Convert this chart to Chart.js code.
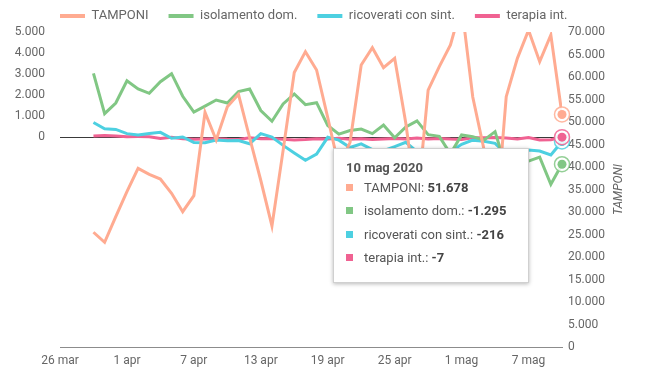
<!DOCTYPE html>
<html><head><meta charset="utf-8">
<script src="https://cdn.jsdelivr.net/npm/chart.js@4/dist/chart.umd.min.js"></script>
<style>
html,body{margin:0;padding:0;background:#fff;}
#wrap{position:relative;width:646px;height:380px;}
#tt{position:absolute;box-sizing:border-box;width:196px;height:135px;background:#fff;border:1px solid #d0d0d0;box-shadow:0 1px 4px rgba(0,0,0,0.28);font-family:Roboto,sans-serif;padding:12px 12px 0 12px;display:none;}
#tt .t{font-weight:bold;font-size:13px;color:#555;line-height:14px;height:14px;margin-bottom:1px;}
#tt .r{height:23.3px;line-height:23.3px;font-size:13px;color:#555;white-space:nowrap;}
#tt .s{display:inline-block;width:7px;height:7px;margin-right:11px;vertical-align:middle;position:relative;top:-1px;}
#tt b{color:#444;}
</style></head><body>
<div id="wrap"><canvas id="c" width="646" height="380"></canvas><div id="tt"></div></div>
<script>
const dates = ['2020-03-29','2020-03-30','2020-03-31','2020-04-01','2020-04-02','2020-04-03','2020-04-04','2020-04-05','2020-04-06','2020-04-07','2020-04-08','2020-04-09','2020-04-10','2020-04-11','2020-04-12','2020-04-13','2020-04-14','2020-04-15','2020-04-16','2020-04-17','2020-04-18','2020-04-19','2020-04-20','2020-04-21','2020-04-22','2020-04-23','2020-04-24','2020-04-25','2020-04-26','2020-04-27','2020-04-28','2020-04-29','2020-04-30','2020-05-01','2020-05-02','2020-05-03','2020-05-04','2020-05-05','2020-05-06','2020-05-07','2020-05-08','2020-05-09','2020-05-10'];
const tamponi = [25500,23260,28960,34520,39700,38370,37330,34150,30070,33630,52150,46000,53410,56150,46500,37000,26900,43700,61000,65630,61560,51000,40000,45500,62670,66520,62070,64150,49700,31000,57100,62300,67110,76000,55560,44000,25000,55630,64150,70400,63410,69330,51678];
const isolamentoDom = [3032,1110,1620,2675,2290,2079,2635,3015,1940,1190,1470,1762,1620,2159,2286,1260,750,1571,2050,1540,1635,550,135,310,380,160,571,-40,475,770,110,30,-800,95,16,-150,254,-1500,-700,-1150,-960,-2250,-1295];
const ricoveratiSint = [690,390,360,160,95,165,222,-63,0,-260,-270,-143,-180,-170,-320,160,0,-400,-760,-1110,-815,-16,-150,-500,-330,-600,-650,-460,-254,-700,-800,-600,-700,-350,-150,-200,-300,-800,-700,-620,-667,-857,-216];
const terapiaInt = [50,75,42,12,18,15,-74,-17,-79,-106,-99,-88,-108,-116,-38,-83,-74,-107,-143,-124,-79,-98,-62,-102,-87,-117,-94,-71,-93,-53,-93,-68,-101,-116,-39,-38,-22,-52,-94,-22,-143,-134,-7];
const seriesNames = ['TAMPONI','isolamento dom.','ricoverati con sint.','terapia int.'];
const xTickDates = ['2020-03-26','2020-04-01','2020-04-07','2020-04-13','2020-04-19','2020-04-25','2020-05-01','2020-05-07'];
const xRange = ['2020-03-26','2020-05-10'];
const leftTickValues = [0,1000,2000,3000,4000,5000];
const leftRange = [-10000,5000];
const rightRange = [0,70000];
const rightTickStep = 5000;
const rightAxisTitle = 'TAMPONI';
const mesi = ['gen','feb','mar','apr','mag','giu','lug','ago','set','ott','nov','dic'];
const colors = ['#FFAB91','#81C784','#4DD0E1','#F06292'];

const toUTC = d => { const [y,m,dd] = d.split('-').map(Number); return Date.UTC(y,m-1,dd); };
const origin = toUTC(xRange[0]);
const toDay = d => (toUTC(d) - origin) / 864e5;
const days = dates.map(toDay);
const dayLabel = v => { const d = new Date(origin + v * 864e5); return d.getUTCDate() + ' ' + mesi[d.getUTCMonth()]; };
const fmt = v => { const s = Math.abs(Math.round(v)).toString().replace(/\B(?=(\d{3})+(?!\d))/g, '.'); return (v < 0 ? '-' : '') + s; };

const series = [tamponi, isolamentoDom, ricoveratiSint, terapiaInt];
const datasets = series.map((vals, i) => ({
  label: seriesNames[i],
  data: vals.map((v, j) => ({x: days[j], y: v})),
  yAxisID: i === 0 ? 'y1' : 'y',
  borderColor: colors[i], backgroundColor: colors[i],
  borderWidth: 3, pointRadius: 0, pointHoverRadius: 0, pointHitRadius: 4, tension: 0
}));

function externalTooltip(context) {
  const {chart, tooltip} = context;
  const el = document.getElementById('tt');
  if (tooltip.opacity === 0 || !tooltip.dataPoints || !tooltip.dataPoints.length) { el.style.display = 'none'; return; }
  const pts = tooltip.dataPoints;
  const d = new Date(origin + pts[0].parsed.x * 864e5);
  let html = '<div class="t">' + d.getUTCDate() + ' ' + mesi[d.getUTCMonth()] + ' ' + d.getUTCFullYear() + '</div>';
  pts.forEach(p => {
    html += '<div class="r"><span class="s" style="background:' + colors[p.datasetIndex] + '"></span>' + p.dataset.label + ': <b>' + fmt(p.parsed.y) + '</b></div>';
  });
  el.innerHTML = html;
  el.style.display = 'block';
  el.style.left = (tooltip.caretX - 229) + 'px';
  el.style.top = (chart.chartArea.top + 116) + 'px';
}

const layoutTweak = {
  id: 'layoutTweak',
  afterLayout(chart) { const l = chart.legend; l.top -= 10.5; l.bottom -= 10.5; l.left += 40; l.right += 40; }
};
const rings = {
  id: 'rings',
  afterDatasetsDraw(chart) {
    const ctx = chart.ctx;
    const act = chart.getActiveElements().slice().sort((a, b) => a.datasetIndex - b.datasetIndex);
    act.forEach(a => {
      const el = chart.getDatasetMeta(a.datasetIndex).data[a.index];
      const c = colors[a.datasetIndex];
      ctx.save();
      ctx.beginPath(); ctx.arc(el.x, el.y, 7.5, 0, Math.PI * 2);
      ctx.fillStyle = 'rgba(255,255,255,0.85)'; ctx.fill();
      ctx.lineWidth = 1.5; ctx.strokeStyle = c; ctx.globalAlpha = 0.85; ctx.stroke();
      ctx.globalAlpha = 1;
      ctx.beginPath(); ctx.arc(el.x, el.y, 4.5, 0, Math.PI * 2);
      ctx.fillStyle = c; ctx.fill();
      ctx.restore();
    });
  }
};
const rightTitle = {
  id: 'rightTitle',
  afterDraw(chart) {
    const s = chart.scales.y1, ctx = chart.ctx;
    ctx.save();
    ctx.translate(s.right - 27, (s.top + s.bottom) / 2);
    ctx.rotate(-Math.PI / 2);
    ctx.font = 'italic 12px Roboto';
    ctx.fillStyle = '#666'; ctx.textAlign = 'center'; ctx.textBaseline = 'middle';
    ctx.fillText(rightAxisTitle, 0, 0);
    ctx.restore();
  }
};

Chart.defaults.font.family = 'Roboto';
Chart.defaults.font.size = 12;
Chart.defaults.color = '#666';

const chart = new Chart(document.getElementById('c'), {
  type: 'line',
  data: {datasets},
  options: {
    responsive: false, animation: false, devicePixelRatio: 1,
    layout: {padding: 0},
    interaction: {mode: 'index', intersect: false},
    plugins: {
      legend: {
        position: 'top', align: 'start', maxHeight: 32,
        labels: {
          boxWidth: 25, boxHeight: 4, padding: 20, color: '#666', font: {size: 13},
          generateLabels: ch => Chart.defaults.plugins.legend.labels.generateLabels(ch).map(l => Object.assign(l, {lineWidth: 0, fillStyle: colors[l.datasetIndex]}))
        }
      },
      tooltip: {enabled: false, mode: 'index', intersect: false, position: 'average', external: externalTooltip}
    },
    scales: {
      x: {
        type: 'linear', min: toDay(xRange[0]), max: toDay(xRange[1]),
        grid: {display: false, drawTicks: false}, border: {display: true, color: '#8c8c8c'},
        afterBuildTicks: s => { s.ticks = xTickDates.map(d => ({value: toDay(d)})); },
        ticks: {color: '#666', padding: 7, maxRotation: 0, autoSkip: false, callback: v => dayLabel(v)},
        afterFit: s => { s.height = 33; }
      },
      y: {
        position: 'left', min: leftRange[0], max: leftRange[1],
        afterBuildTicks: s => { s.ticks = leftTickValues.map(v => ({value: v})); },
        grid: {drawTicks: false, lineWidth: 1, color: c => (c.tick && c.tick.value === 0) ? '#3a3a3a' : 'rgba(0,0,0,0)'},
        border: {display: false},
        ticks: {color: '#666', padding: 15, callback: v => fmt(v)},
        afterFit: s => { s.width = 60; }
      },
      y1: {
        position: 'right', min: rightRange[0], max: rightRange[1],
        grid: {display: false, drawTicks: false}, border: {display: false},
        ticks: {stepSize: rightTickStep, color: '#666', padding: 6, callback: v => fmt(v)},
        afterFit: s => { s.width = 84; }
      }
    }
  },
  plugins: [layoutTweak, rings, rightTitle]
});

const last = dates.length - 1;
const active = datasets.map((_, i) => ({datasetIndex: i, index: last}));
chart.setActiveElements(active);
chart.tooltip.setActiveElements(active, {x: chart.scales.x.getPixelForValue(days[last]), y: chart.chartArea.top});
chart.draw();
</script>
</body></html>
